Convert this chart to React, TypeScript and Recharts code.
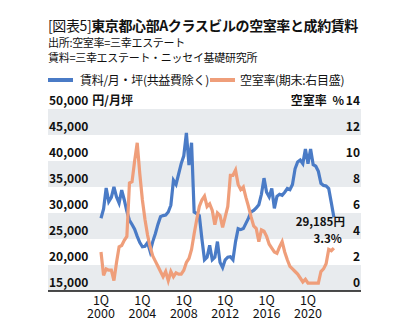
import React from 'react';
import {
  LineChart,
  Line,
  XAxis,
  YAxis,
  ReferenceArea,
} from 'recharts';

// 四半期データ 2000年1Q〜2022年3Q
const startYear = 2000;

// 成約賃料 (円/月坪, 共益費除く)
const rent = [
  29000, 30800, 34800, 32200, 33000, 35000, 33100, 31900, 34400, 32500,
  30300, 28600, 27800, 26900, 25500, 24300, 23500, 23600, 24300, 22600,
  24500, 26000, 27800, 29300, 29500, 29600, 30200, 31500, 36300, 35500,
  37500, 39500, 41000, 45400, 39200, 43500, 30200, 29900, 29500, 25000,
  21000, 21500, 23800, 21000, 21500, 24500, 20500, 19500, 21000, 21500,
  21600, 21000, 24500, 27000, 26800, 27000, 28000, 29000, 30200, 30500,
  31000, 31600, 33600, 36700, 34000, 33100, 34700, 30900, 33200, 33600,
  33400, 34000, 34700, 34500, 35500, 38500, 39800, 40200, 39500, 42300,
  39500, 42300, 39300, 39000, 38000, 35700, 35300, 35200, 34700, 32000,
  29185,
];

// 空室率 (%, 期末)
const vacancy = [
  3.0, 1.2, 1.7, 1.6, 1.6, 0.8, 2.2, 3.4, 3.5, 3.9,
  4.2, 8.3, 8.4, 10.0, 11.4, 9.0, 7.0, 5.5, 4.3, 3.4,
  2.7, 2.3, 1.9, 1.5, 1.1, 1.5, 0.8, 1.5, 1.1, 1.4,
  1.3, 1.3, 1.6, 2.2, 2.5, 3.2, 4.4, 5.5, 6.5, 7.0,
  7.3, 6.5, 6.7, 6.2, 5.1, 6.0, 5.8, 4.9, 5.7, 6.5,
  8.9, 8.9, 9.3, 8.2, 7.8, 8.0, 7.2, 6.5, 5.7, 5.0,
  4.8, 3.8, 4.7, 4.6, 4.2, 3.6, 3.3, 3.0, 2.9, 3.4,
  3.8, 3.0, 2.4, 1.9, 1.7, 1.5, 1.3, 1.0, 0.7, 0.9,
  0.6, 0.6, 0.6, 0.6, 0.6, 1.5, 1.7, 2.1, 3.2, 3.1,
  3.3,
];

const yearTicks = [2000, 2004, 2008, 2012, 2016, 2020];
const rentTicks = [15000, 20000, 25000, 30000, 35000, 40000, 45000, 50000];
const vacancyTicks = [0, 2, 4, 6, 8, 10, 12, 14];
const bands = [
  [15000, 20000],
  [25000, 30000],
  [35000, 40000],
  [45000, 50000],
];

const data = rent.map((r, i) => ({
  t: startYear + i / 4,
  rent: r,
  vacancy: vacancy[i],
}));

const BLUE = '#4a7bc6';
const ORANGE = '#ef9e7a';
const BAND = '#e8ebee';
const FONT = "'Noto Sans CJK JP', 'Noto Sans', sans-serif";

const PLOT_LEFT = 48;
const PLOT_RIGHT = 361;
const PLOT_BOTTOM = 291;
const AXIS_W = 2;
const LAST = rent.length - 1;

const LeftTick = ({ y, payload }: any) => {
  const v = payload.value;
  return (
    <text x={PLOT_LEFT + 1} y={y - 4} textAnchor="start" fontSize={12} fontWeight="bold" fill="#111" fontFamily={FONT}>
      {v.toLocaleString('en-US')}
      {v === 50000 && <tspan dx={4}>円/月坪</tspan>}
    </text>
  );
};

const RightTick = ({ y, payload }: any) => {
  const v = payload.value;
  return (
    <g>
      <text x={PLOT_RIGHT - 1} y={y - 4} textAnchor="end" fontSize={12} fontWeight="bold" fill="#111" fontFamily={FONT}>
        {v}
      </text>
      {v === 14 && (
        <text x={PLOT_RIGHT - 17} y={y - 4} textAnchor="end" fontSize={12} fontWeight="bold" fill="#111" fontFamily={FONT}>
          空室率 <tspan dx={3}>%</tspan>
        </text>
      )}
    </g>
  );
};

const YearTick = ({ x, payload }: any) => (
  <g>
    <text x={x} y={PLOT_BOTTOM + 13.5} textAnchor="middle" fontSize={12.5} fill="#111" fontFamily={FONT}>
      1Q
    </text>
    <text x={x} y={PLOT_BOTTOM + 27} textAnchor="middle" fontSize={12.5} fill="#111" fontFamily={FONT}>
      {payload.value}
    </text>
  </g>
);

const RentLabel = ({ x, y, index }: any) =>
  index === LAST ? (
    <text x={x + 11} y={y + 9} textAnchor="end" fontSize={11.5} fontWeight="bold" fill="#111" fontFamily={FONT}>
      {rent[LAST].toLocaleString('en-US')}円
    </text>
  ) : null;

const VacancyLabel = ({ x, y, index }: any) =>
  index === LAST ? (
    <text x={x + 8} y={y - 5} textAnchor="end" fontSize={11.5} fontWeight="bold" fill="#111" fontFamily={FONT}>
      {vacancy[LAST].toFixed(1)}%
    </text>
  ) : null;

const abs = (left: number, top: number, extra: React.CSSProperties = {}): React.CSSProperties => ({
  position: 'absolute',
  left,
  top,
  whiteSpace: 'nowrap',
  ...extra,
});

export default function App() {
  return (
    <div style={{ position: 'absolute', left: 0, top: 0, width: 406, height: 335, background: '#fff', fontFamily: FONT, color: '#111' }}>
      <div style={abs(48, 17, { fontSize: 14, lineHeight: '16px', letterSpacing: -0.4 })}>
        <span>[図表5]</span>
        <span style={{ fontWeight: 'bold' }}>東京都心部Aクラスビルの空室率と成約賃料</span>
      </div>
      <div style={abs(48, 35, { fontSize: 11, lineHeight: '14px', letterSpacing: -0.3 })}>
        出所:空室率=三幸エステート
      </div>
      <div style={abs(48, 50, { fontSize: 11, lineHeight: '14px', letterSpacing: -0.3 })}>
        賃料=三幸エステート・ニッセイ基礎研究所
      </div>
      <div style={abs(48, 78, { width: 25, height: 4, background: BLUE })} />
      <div style={abs(80, 73, { fontSize: 12, lineHeight: '14px', letterSpacing: -0.3 })}>
        賃料/月・坪(共益費除く)
      </div>
      <div style={abs(210, 78, { width: 25, height: 4, background: ORANGE })} />
      <div style={abs(240, 73, { fontSize: 12, lineHeight: '14px', letterSpacing: -0.3 })}>
        空室率(期末:右目盛)
      </div>

      <div style={abs(0, 0)}>
        <LineChart
          width={406}
          height={335}
          data={data}
          margin={{ top: 109, right: 406 - PLOT_RIGHT - AXIS_W, bottom: 0, left: PLOT_LEFT - AXIS_W }}
        >
          <XAxis
            dataKey="t"
            type="number"
            domain={[1994.88, 2025.12]}
            ticks={yearTicks}
            allowDataOverflow
            height={335 - PLOT_BOTTOM}
            axisLine={{ stroke: '#111', strokeWidth: 1.5 }}
            tickLine={false}
            tick={<YearTick />}
            interval={0}
          />
          <YAxis
            yAxisId="left"
            width={AXIS_W}
            domain={[15000, 50000]}
            ticks={rentTicks}
            axisLine={false}
            tickLine={false}
            tick={<LeftTick />}
            interval={0}
          />
          <YAxis
            yAxisId="right"
            orientation="right"
            width={AXIS_W}
            domain={[0, 14]}
            ticks={vacancyTicks}
            axisLine={false}
            tickLine={false}
            tick={<RightTick />}
            interval={0}
          />
          {bands.map(([lo, hi]) => (
            <ReferenceArea key={lo} yAxisId="left" y1={lo} y2={hi} fill={BAND} fillOpacity={1} stroke="none" />
          ))}
          <Line
            yAxisId="left"
            dataKey="rent"
            stroke={BLUE}
            strokeWidth={3.2}
            dot={false}
            isAnimationActive={false}
            label={<RentLabel />}
          />
          <Line
            yAxisId="right"
            dataKey="vacancy"
            stroke={ORANGE}
            strokeWidth={3.2}
            dot={false}
            isAnimationActive={false}
            label={<VacancyLabel />}
          />
        </LineChart>
      </div>
    </div>
  );
}
